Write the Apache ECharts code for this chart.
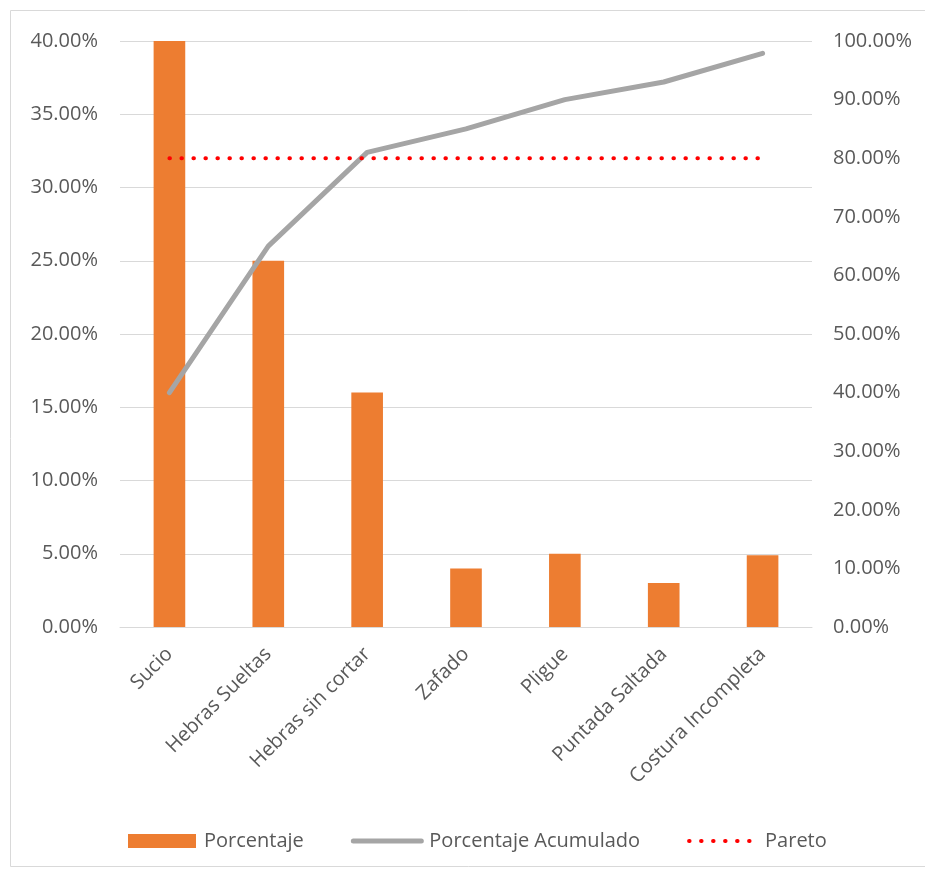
<!DOCTYPE html>
<html><head><meta charset="utf-8">
<script src="https://cdn.jsdelivr.net/npm/echarts@6/dist/echarts.min.js"></script>
<style>html,body{margin:0;padding:0;background:#fff}#c{width:925px;height:870px}</style>
</head><body><div id="c"></div>
<script>
const categories = ['Sucio','Hebras Sueltas','Hebras sin cortar','Zafado','Pligue','Puntada Saltada','Costura Incompleta'];
const porcentaje = [40, 25, 16, 4, 5, 3, 4.9];
const acumulado = [40, 65, 81, 85, 90, 93, 97.9];
const pareto = [80, 80, 80, 80, 80, 80, 80];
const leftTicks = {min: 0, max: 40, interval: 5};
const rightTicks = {min: 0, max: 100, interval: 10};

const FONT = '"Open Sans", sans-serif';
const TXT = '#595959';
const chart = echarts.init(document.getElementById('c'), null, {renderer: 'canvas'});
chart.setOption({
  animation: false,
  textStyle: {fontFamily: FONT},
  graphic: [{type: 'rect', shape: {x: 10.5, y: 10.5, width: 930, height: 856}, style: {fill: 'none', stroke: '#d9d9d9', lineWidth: 1}}],
  grid: {left: 120, right: 113, top: 41, bottom: 243},
  legend: {
    bottom: 19, left: 128, itemGap: 47, itemWidth: 68, itemHeight: 14, padding: 0,
    textStyle: {fontFamily: FONT, fontSize: 20, color: TXT, padding: [0, 0, 0, 3]},
    data: [
      {name: 'Porcentaje', icon: 'rect'},
      {name: 'Porcentaje Acumulado', itemStyle: {opacity: 0}, lineStyle: {width: 5}},
      {name: 'Pareto', itemStyle: {opacity: 0}, lineStyle: {width: 4}}
    ]
  },
  xAxis: {
    type: 'category', data: categories,
    axisLine: {lineStyle: {color: '#d9d9d9', width: 1}},
    axisTick: {show: false},
    axisLabel: {rotate: 45, interval: 0, color: TXT, fontSize: 20, fontFamily: FONT, margin: 24}
  },
  yAxis: [
    {type: 'value', min: leftTicks.min, max: leftTicks.max, interval: leftTicks.interval,
     axisLabel: {formatter: v => v.toFixed(2) + '%', color: TXT, fontSize: 20, fontFamily: FONT, margin: 22},
     splitLine: {lineStyle: {color: '#d9d9d9', width: 1}}, axisLine: {show: false}, axisTick: {show: false}},
    {type: 'value', min: rightTicks.min, max: rightTicks.max, interval: rightTicks.interval,
     axisLabel: {formatter: v => v.toFixed(2) + '%', color: TXT, fontSize: 20, fontFamily: FONT, margin: 21},
     splitLine: {show: false}, axisLine: {show: false}, axisTick: {show: false}}
  ],
  series: [
    {name: 'Porcentaje', type: 'bar', data: porcentaje, barWidth: '32%', itemStyle: {color: '#ED7D31'}, yAxisIndex: 0},
    {name: 'Porcentaje Acumulado', type: 'line', data: acumulado, yAxisIndex: 1, symbol: 'none',
     lineStyle: {color: '#A5A5A5', width: 5, cap: 'round', join: 'round'}, itemStyle: {color: '#A5A5A5'}},
    {name: 'Pareto', type: 'line', data: pareto, yAxisIndex: 1, symbol: 'none',
     lineStyle: {color: '#FF0000', width: 4, type: [0.5, 11.5], cap: 'round'}, itemStyle: {color: '#FF0000'}}
  ]
});
</script></body></html>
